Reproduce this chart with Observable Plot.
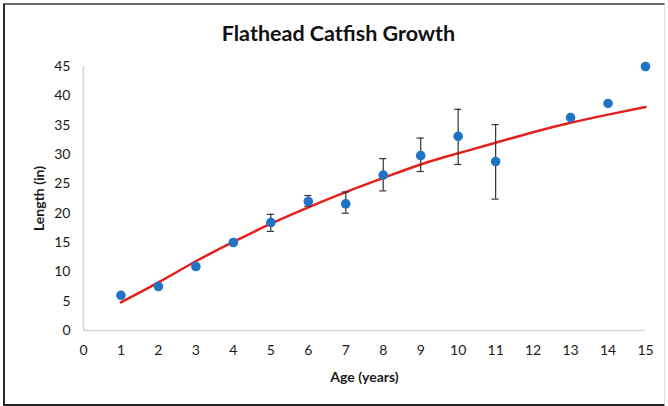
<!DOCTYPE html>
<html>
<head>
<meta charset="utf-8">
<script src="https://cdn.jsdelivr.net/npm/d3@7"></script>
<script src="https://cdn.jsdelivr.net/npm/@observablehq/plot@0.6"></script>
<style>
  html, body { margin: 0; padding: 0; background: #fff; }
  #wrap { position: relative; width: 668px; height: 406px; overflow: hidden; }
  #frame { position: absolute; left: 3px; top: 3px; width: 659px; height: 399px;
           border-left: 2px solid #2a2a2a; border-top: 2px solid #6a6a6a;
           border-bottom: 3px solid #222; border-right: 1px solid #e4e4e4;
           pointer-events: none; }
  svg { font-family: Lato, "Open Sans", sans-serif; }
  g[aria-label="x-axis label"] text, g[aria-label="y-axis label"] text { font-weight: bold; font-size: 14px; }
</style>
</head>
<body>
<div id="wrap"><div id="frame"></div></div>
<script>
const title = "Flathead Catfish Growth";
const xLabel = "Age (years)";
const yLabel = "Length (in)";
const xTicks = [0,1,2,3,4,5,6,7,8,9,10,11,12,13,14,15];
const yTicks = [0,5,10,15,20,25,30,35,40,45];

const ages    = [1, 2, 3, 4, 5, 6, 7, 8, 9, 10, 11, 13, 14, 15];
const lengths = [6.0, 7.5, 10.9, 15.0, 18.4, 22.0, 21.6, 26.5, 29.8, 33.1, 28.8, 36.3, 38.7, 45.0];

const errAges = [5, 6, 7, 8, 9, 10, 11];
const errLow  = [16.9, 21.2, 20.0, 23.8, 27.1, 28.3, 22.4];
const errHigh = [19.8, 23.0, 23.6, 29.3, 32.8, 37.7, 35.1];

const fitAges = [1, 2, 3, 4, 5, 6, 7, 8, 9, 10, 11, 12, 13, 14, 15];
const fitLen  = [4.8, 8.2, 11.8, 15.1, 18.2, 21.0, 23.6, 26.0, 28.3, 30.2, 32.0, 33.8, 35.4, 36.8, 38.1];

const pts = ages.map((a, i) => ({age: a, len: lengths[i]}));
const errs = errAges.map((a, i) => ({age: a, lo: errLow[i], hi: errHigh[i]}));
const fit = fitAges.map((a, i) => ({age: a, len: fitLen[i]}));
const capHalf = 0.095;

const chart = Plot.plot({
  width: 668,
  height: 406,
  marginLeft: 83,
  marginRight: 23,
  marginTop: 66,
  marginBottom: 76,
  style: {fontFamily: "Lato, 'Open Sans', sans-serif", fontSize: "14px", color: "#1a1a1a", background: "transparent"},
  x: {domain: [0, 15], ticks: xTicks, tickSize: 0, tickPadding: 15, label: xLabel, labelAnchor: "center", labelOffset: 51, labelArrow: "none"},
  y: {domain: [0, 45], ticks: yTicks, tickSize: 0, tickPadding: 13, label: yLabel, labelAnchor: "center", labelOffset: 49, labelArrow: "none"},
  marks: [
    Plot.ruleY([0], {stroke: "#d4d4d4", strokeWidth: 1.5}),
    Plot.ruleX([0], {stroke: "#d4d4d4", strokeWidth: 1.5}),
    Plot.line(fit, {x: "age", y: "len", stroke: "#e3201b", strokeWidth: 2.5, curve: "natural"}),
    Plot.ruleX(errs, {x: "age", y1: "lo", y2: "hi", stroke: "#333", strokeWidth: 1.2}),
    Plot.ruleY(errs, {y: "lo", x1: d => d.age - capHalf, x2: d => d.age + capHalf, stroke: "#333", strokeWidth: 1.2}),
    Plot.ruleY(errs, {y: "hi", x1: d => d.age - capHalf, x2: d => d.age + capHalf, stroke: "#333", strokeWidth: 1.2}),
    Plot.dot(pts, {x: "age", y: "len", r: 4.8, fill: "#1f74c6", stroke: "none"}),
    Plot.text([title], {frameAnchor: "top", dx: -26, dy: -41, fontSize: 21.5, fontWeight: "bold", fill: "#111"})
  ]
});
document.getElementById("wrap").prepend(chart);
</script>
</body>
</html>
